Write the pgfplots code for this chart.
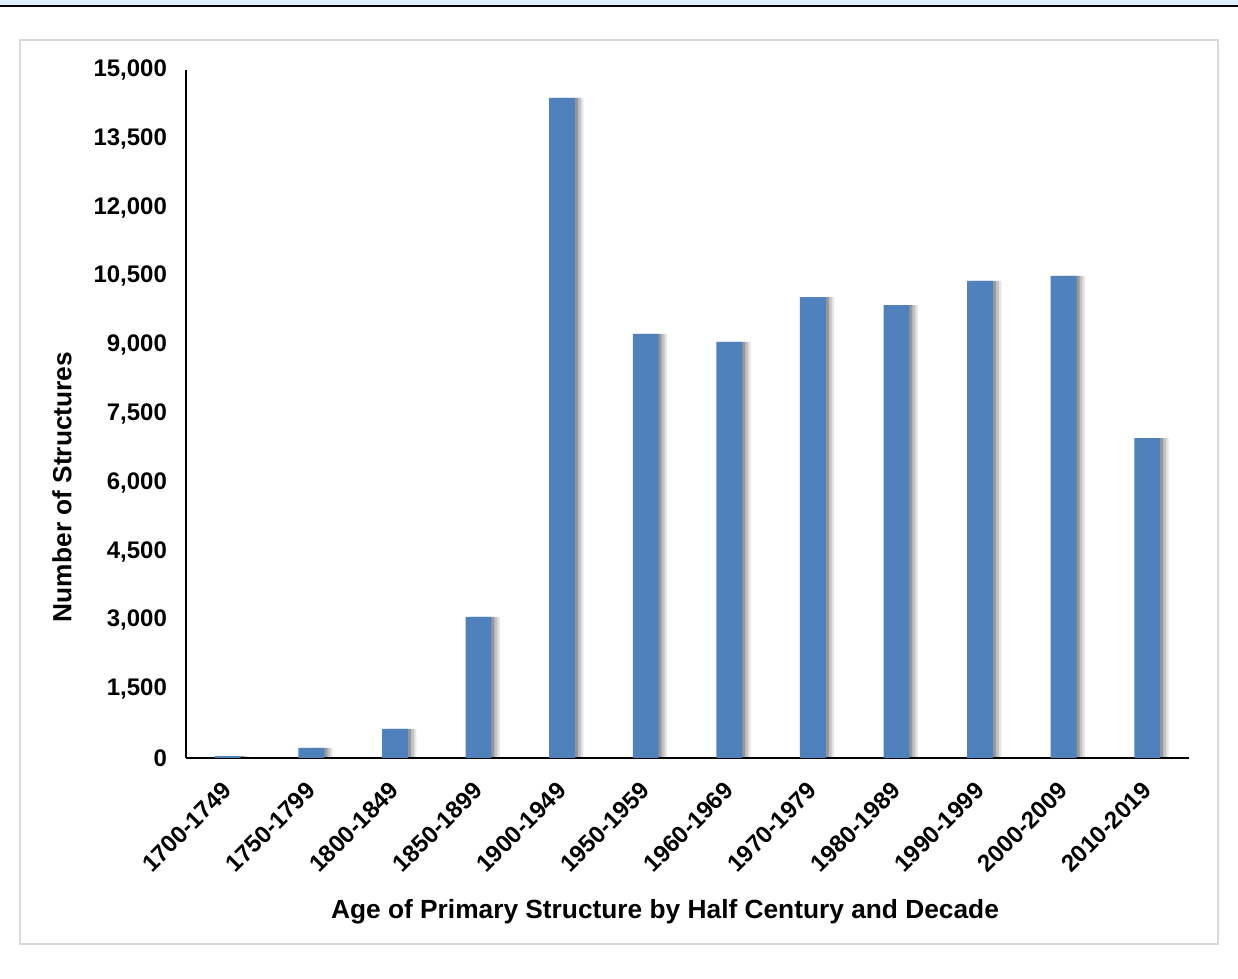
\documentclass[border=0pt]{standalone}
\usepackage{fontspec}
\setmainfont{Liberation Sans}
\usepackage{pgfplots}
\pgfplotsset{compat=1.18}
\definecolor{barblue}{HTML}{4F81BD}
\definecolor{framegray}{HTML}{D9D9D9}
\definecolor{topblue}{HTML}{DDEFFB}
\begin{document}
\begin{tikzpicture}
\useasboundingbox (0,0) rectangle (619pt,489.5pt);
\fill[white] (0,0) rectangle (619pt,489.5pt);
\fill[topblue] (0,487pt) rectangle (619pt,489.5pt);
\draw[black,line width=1.2pt] (0,486.5pt) -- (619pt,486.5pt);
\draw[framegray,line width=1pt] (10pt,17.5pt) rectangle (609pt,469.5pt);
\begin{axis}[
  at={(93pt,110.5pt)}, anchor=south west,
  scale only axis, width=501.5pt, height=344pt,
  xmin=-0.5, xmax=11.5, ymin=0, ymax=15000,
  axis x line*=bottom, axis y line*=left,
  axis line style={black, line width=0.8pt, -},
  major tick length=0pt,
  xtick=data,
  xticklabels={1700-1749,1750-1799,1800-1849,1850-1899,1900-1949,1950-1959,1960-1969,1970-1979,1980-1989,1990-1999,2000-2009,2010-2019},
  ytick={0,1500,3000,4500,6000,7500,9000,10500,12000,13500,15000},
  /pgf/number format/assume math mode=true,
  /pgf/number format/1000 sep={,},
  scaled y ticks=false,
  ticklabel style={font=\fontsize{12}{14}\selectfont\bfseries},
  xticklabel style={rotate=45, anchor=north east, xshift=-9pt, yshift=-4.5pt, inner sep=1pt},
  yticklabel style={xshift=-6pt},
  xlabel={Age of Primary Structure by Half Century and Decade},
  ylabel={Number of Structures},
  label style={font=\fontsize{13.15}{15}\selectfont\bfseries},
  xlabel style={at={(axis description cs:0.4776,-0.2238)}, anchor=center},
  ylabel style={at={(axis description cs:-0.1236,0.394)}, anchor=center},
  clip=false,
]
\addplot[ybar, bar width=0.31, bar shift=0.10, fill=black, draw=none, opacity=0.10, forget plot] coordinates {
(0,40) (1,220) (2,635) (3,3075) (4,14390) (5,9245) (6,9070) (7,10050) (8,9875) (9,10400) (10,10510) (11,6975)};
\addplot[ybar, bar width=0.31, bar shift=0.07, fill=black, draw=none, opacity=0.15, forget plot] coordinates {
(0,40) (1,220) (2,635) (3,3075) (4,14390) (5,9245) (6,9070) (7,10050) (8,9875) (9,10400) (10,10510) (11,6975)};
\addplot[ybar, bar width=0.31, bar shift=0.035, fill=black, draw=none, opacity=0.22, forget plot] coordinates {
(0,40) (1,220) (2,635) (3,3075) (4,14390) (5,9245) (6,9070) (7,10050) (8,9875) (9,10400) (10,10510) (11,6975)};
\addplot[ybar, bar width=0.31, bar shift=0, fill=barblue, draw=none] coordinates {
(0,40) (1,220) (2,635) (3,3075) (4,14390) (5,9245) (6,9070) (7,10050) (8,9875) (9,10400) (10,10510) (11,6975)};
\end{axis}
\end{tikzpicture}
\end{document}
